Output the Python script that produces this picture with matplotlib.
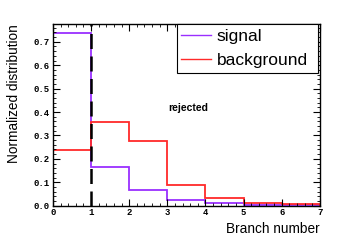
import matplotlib
matplotlib.use("Agg")
import matplotlib.pyplot as plt
import numpy as np
from matplotlib.ticker import MultipleLocator
from matplotlib.patches import Rectangle

bin_edges = [0, 1, 2, 3, 4, 5, 6, 7]
signal = [0.739, 0.165, 0.068, 0.023, 0.010, 0.004, 0.002]
background = [0.239, 0.357, 0.276, 0.090, 0.031, 0.013, 0.006]
cut_value = 1

fig = plt.figure(figsize=(3.55, 2.42), dpi=100)
ax = fig.add_axes([0.149, 0.150, 0.752, 0.750])

ax.stairs(signal, bin_edges, color="#9a2fff", lw=1.3, label="signal", baseline=0)
ax.stairs(background, bin_edges, color="#ff2a2a", lw=1.3, label="background", baseline=0)
ax.axvline(cut_value, color="black", lw=1.8, dashes=(6, 3))

ax.set_xlim(0, 7)
ax.set_ylim(0, 0.775)
ax.xaxis.set_major_locator(MultipleLocator(1))
ax.xaxis.set_minor_locator(MultipleLocator(0.2))
ax.yaxis.set_major_locator(MultipleLocator(0.1))
ax.yaxis.set_minor_locator(MultipleLocator(0.02))
ax.tick_params(which="both", direction="in", top=True, right=True)
ax.tick_params(which="major", length=5, width=0.8)
ax.tick_params(which="minor", length=2.5, width=0.6)
for s in ax.spines.values():
    s.set_linewidth(1.0)

mono = {"family": "Liberation Mono", "weight": "bold", "size": 6.5}
ax.set_xticklabels([f"{int(v)}" for v in ax.get_xticks()], fontdict=mono)
ax.set_yticklabels([f"{v:.1f}" for v in ax.get_yticks()], fontdict=mono)
ax.tick_params(axis="x", pad=2)
ax.tick_params(axis="y", pad=2)

ax.set_xlabel("Branch number", family="Liberation Sans", fontsize=9.8, loc="right")
ax.set_ylabel("Normalized distribution", family="Liberation Sans", fontsize=9.8, loc="top")
ax.xaxis.set_label_coords(1.0, -0.09)
ax.yaxis.set_label_coords(-0.118, 1.0)

ax.text(3.54, 0.417, "rejected", family="Liberation Sans", weight="bold", fontsize=7.5,
        ha="center", va="center")

# legend frame (ROOT-like box)
ax.add_patch(Rectangle((0.464, 0.7315), 0.529, 0.2685, transform=ax.transAxes,
                       facecolor="white", edgecolor="black", lw=0.8, zorder=4, clip_on=False))
leg = ax.legend(loc="upper left", bbox_to_anchor=(0.478, 0.972), prop={"family": "Liberation Sans", "size": 12.5},
                frameon=False, handlelength=1.75, borderaxespad=0, borderpad=0,
                labelspacing=0.5, handletextpad=0.35)
leg.set_zorder(5)
for l in leg.get_lines():
    l.set_linewidth(1.0)

fig.savefig("out.png", dpi=100)
